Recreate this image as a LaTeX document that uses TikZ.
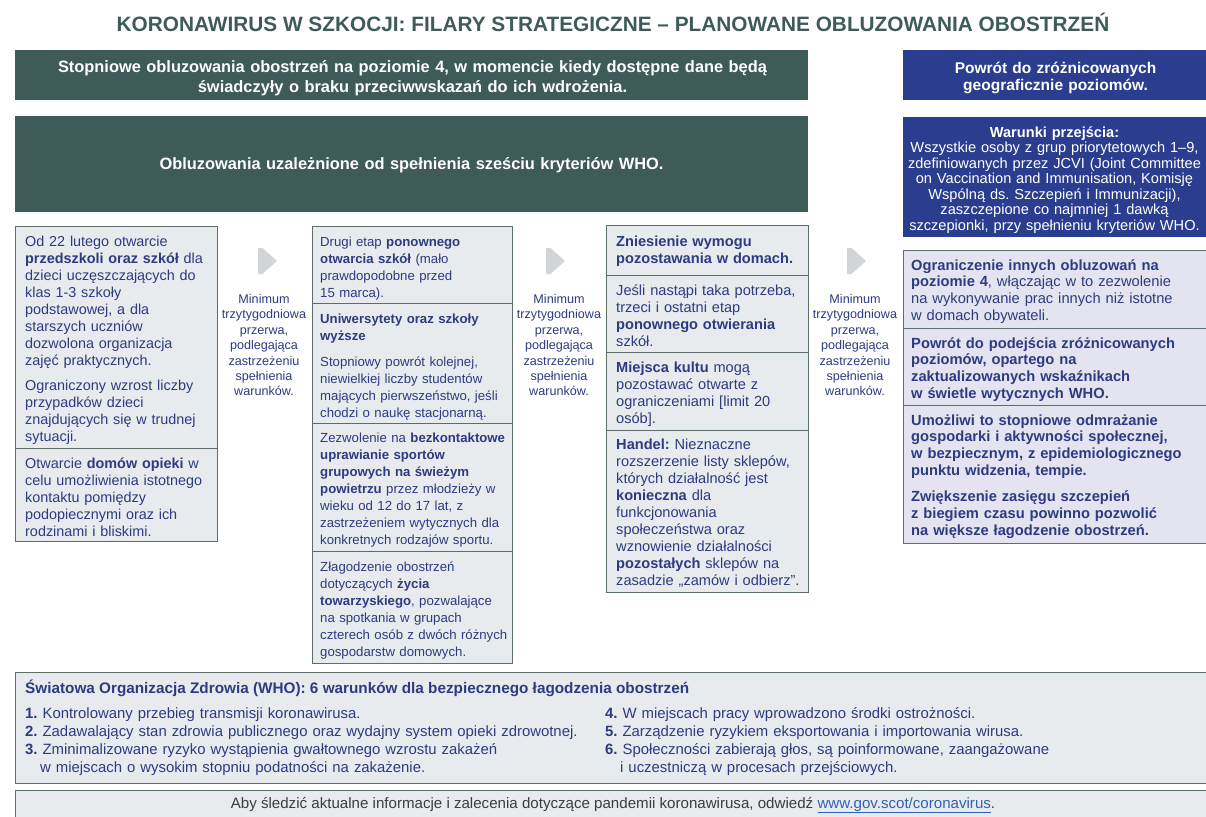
\documentclass[tikz,border=0pt]{standalone}
\usepackage{fontspec}
\setmainfont{Liberation Sans}
\definecolor{tealbox}{HTML}{3E5B58}
\definecolor{bluebox}{HTML}{2A3D8F}
\definecolor{navy}{HTML}{2D3B82}
\definecolor{cellfill}{HTML}{E8EBED}
\definecolor{cellfillb}{HTML}{E3E4EF}
\definecolor{celldraw}{HTML}{5D6E6A}
\definecolor{arrowgray}{HTML}{D3D4D5}
\definecolor{footgray}{HTML}{3C3C3C}
\definecolor{linkblue}{HTML}{2F62B5}
\newcommand\mkbox[6]{\node[#1, anchor=north west, inner sep=0pt, minimum width={#4-#2}, minimum height={#5-#3}] (#6) at (#2,#3) {};}
\frenchspacing
\begin{document}
\begin{tikzpicture}[x=1pt,y=-1pt,
  darkbox/.style={fill=tealbox, draw=none},
  bluebx/.style={fill=bluebox, draw=none},
  cell/.style={fill=cellfill, draw=celldraw, line width=1.4pt},
  cellb/.style={fill=cellfillb, draw=celldraw, line width=1.4pt},
  celltxt/.style={anchor=base west, inner sep=0pt, align=left, text=navy, font=\frenchspacing\fontsize{14.6}{17}\selectfont},
  celltxtn/.style={anchor=base west, inner sep=0pt, align=left, text=navy, font=\frenchspacing\fontsize{13.2}{17}\selectfont},
  whitetxt/.style={anchor=base, inner sep=0pt, align=center, text=white, font=\frenchspacing\fontsize{16.4}{19.5}\selectfont\bfseries},
  gaptxt/.style={anchor=base, inner sep=0pt, align=center, text=navy, text width=100, font=\fontsize{12.6}{15.4}\selectfont},
  chevron/.style={fill=arrowgray},
  listtxt/.style={anchor=base west, inner sep=0pt, align=left, text=navy, font=\frenchspacing\fontsize{14.9}{18.3}\selectfont},
]
\useasboundingbox (0,0) rectangle (1206,816);
\clip (0,0) rectangle (1206,816);

% title
\node[anchor=base, inner sep=0pt, text=tealbox, font=\fontsize{20.8}{24}\selectfont\bfseries] (title) at (613,31.5)
  {KORONAWIRUS W SZKOCJI: FILARY STRATEGICZNE – PLANOWANE OBLUZOWANIA OBOSTRZEŃ};

% top banners
\mkbox{darkbox}{15}{50}{808}{100}{top1}
\node[whitetxt, text width=793] (top1t) at (412.5,72.5)
  {Stopniowe obluzowania obostrzeń na poziomie 4, w momencie kiedy dostępne dane będą\\
   świadczyły o braku przeciwwskazań do ich wdrożenia.};
\mkbox{darkbox}{15}{116}{808}{212}{top2}
\node[whitetxt, text width=793] (top2t) at (411.5,169)
  {Obluzowania uzależnione od spełnienia sześciu kryteriów WHO.};
\mkbox{bluebx}{903}{50}{1215}{100}{blue1}
\node[whitetxt, text width=300, font=\fontsize{15.5}{17}\selectfont\bfseries] (blue1t) at (1055.5,73.5)
  {Powrót do zróżnicowanych\\ geograficznie poziomów.};
\mkbox{bluebx}{903}{117}{1215}{237}{blue2}
\node[whitetxt, text width=300, font=\frenchspacing\fontsize{14.6}{15.5}\selectfont] (blue2t) at (1054.5,137)
  {\textbf{Warunki przejścia:}\\
   Wszystkie osoby z grup priorytetowych 1–9,\\
   zdefiniowanych przez JCVI (Joint Committee\\
   on Vaccination and Immunisation, Komisję\\
   Wspólną ds. Szczepień i Immunizacji),\\
   zaszczepione co najmniej 1 dawką\\
   szczepionki, przy spełnieniu kryteriów WHO.};

% column 1
\mkbox{cell}{15}{226}{217}{448}{c1a}
\mkbox{cell}{15}{448}{217}{541}{c1b}
\node[celltxt, text width=190, font=\fontsize{14.4}{17}\selectfont] (c1at) at (25,246)
  {Od 22 lutego otwarcie\\
   \textbf{przedszkoli oraz szkół} dla\\
   dzieci uczęszczających do\\
   klas 1-3 szkoły\\
   podstawowej, a dla\\
   starszych uczniów\\
   dozwolona organizacja\\
   zajęć praktycznych.\\[8pt]
   Ograniczony wzrost liczby\\
   przypadków dzieci\\
   znajdujących się w trudnej\\
   sytuacji.};
\node[celltxt, text width=190, font=\fontsize{14.4}{17}\selectfont] (c1bt) at (25,468)
  {Otwarcie \textbf{domów opieki} w\\
   celu umożliwienia istotnego\\
   kontaktu pomiędzy\\
   podopiecznymi oraz ich\\
   rodzinami i bliskimi.};

% column 2
\mkbox{cell}{312}{226}{512}{303}{c2a}
\mkbox{cell}{312}{303}{512}{423}{c2b}
\mkbox{cell}{312}{423}{512}{551}{c2c}
\mkbox{cell}{312}{551}{512}{663}{c2d}
\node[celltxtn, text width=190] (c2at) at (320,246)
  {Drugi etap \textbf{ponownego}\\
   \textbf{otwarcia szkół} (mało\\
   prawdopodobne przed\\
   15 marca).};
\node[celltxtn, text width=190] (c2bt) at (320,323)
  {\textbf{Uniwersytety oraz szkoły}\\
   \textbf{wyższe}\\[9pt]
   Stopniowy powrót kolejnej,\\
   niewielkiej liczby studentów\\
   mających pierwszeństwo, jeśli\\
   chodzi o naukę stacjonarną.};
\node[celltxtn, text width=190] (c2ct) at (320,442)
  {Zezwolenie na \textbf{bezkontaktowe}\\
   \textbf{uprawianie sportów}\\
   \textbf{grupowych na świeżym}\\
   \textbf{powietrzu} przez młodzieży w\\
   wieku od 12 do 17 lat, z\\
   zastrzeżeniem wytycznych dla\\
   konkretnych rodzajów sportu.};
\node[celltxtn, text width=190] (c2dt) at (320,571)
  {Złagodzenie obostrzeń\\
   dotyczących \textbf{życia}\\
   \textbf{towarzyskiego}, pozwalające\\
   na spotkania w grupach\\
   czterech osób z dwóch różnych\\
   gospodarstw domowych.};

% column 3
\mkbox{cell}{606}{225}{808}{275}{c3a}
\mkbox{cell}{606}{275}{808}{352}{c3b}
\mkbox{cell}{606}{352}{808}{430}{c3c}
\mkbox{cell}{606}{430}{808}{592}{c3d}
\node[celltxt, text width=190] (c3at) at (616,246)
  {\textbf{Zniesienie wymogu}\\
   \textbf{pozostawania w domach.}};
\node[celltxt, text width=190] (c3bt) at (616,295)
  {Jeśli nastąpi taka potrzeba,\\
   trzeci i ostatni etap\\
   \textbf{ponownego otwierania}\\
   szkół.};
\node[celltxt, text width=190] (c3ct) at (616,372)
  {\textbf{Miejsca kultu} mogą\\
   pozostawać otwarte z\\
   ograniczeniami [limit 20\\
   osób].};
\node[celltxt, text width=190] (c3dt) at (616,449)
  {\textbf{Handel:} Nieznaczne\\
   rozszerzenie listy sklepów,\\
   których działalność jest\\
   \textbf{konieczna} dla\\
   funkcjonowania\\
   społeczeństwa oraz\\
   wznowienie działalności\\
   \textbf{pozostałych} sklepów na\\
   zasadzie „zamów i odbierz”.};

% column 4
\mkbox{cellb}{903}{250}{1215}{328}{c4a}
\mkbox{cellb}{903}{328}{1215}{405}{c4b}
\mkbox{cellb}{903}{405}{1215}{543}{c4c}
\node[celltxt, text width=295, font=\frenchspacing\fontsize{14.7}{16.9}\selectfont] (c4at) at (911,270)
  {\textbf{Ograniczenie innych obluzowań na}\\
   \textbf{poziomie 4}, włączając w to zezwolenie\\
   na wykonywanie prac innych niż istotne\\
   w domach obywateli.};
\node[celltxt, text width=295, font=\frenchspacing\fontsize{14.7}{16.9}\selectfont\bfseries] (c4bt) at (911,348)
  {Powrót do podejścia zróżnicowanych\\
   poziomów, opartego na\\
   zaktualizowanych wskaźnikach\\
   w świetle wytycznych WHO.};
\node[celltxt, text width=295, font=\frenchspacing\fontsize{14.7}{16.7}\selectfont\bfseries] (c4ct) at (911,425)
  {Umożliwi to stopniowe odmrażanie\\
   gospodarki i aktywności społecznej,\\
   w bezpiecznym, z epidemiologicznego\\
   punktu widzenia, tempie.\\[10pt]
   Zwiększenie zasięgu szczepień\\
   z biegiem czasu powinno pozwolić\\
   na większe łagodzenie obostrzeń.};

% gaps with chevrons
\fill[chevron] (258,248) -- (262.5,248) -- (277,261) -- (262.5,274) -- (258,274) -- cycle;
\fill[chevron] (546,248) -- (550.5,248) -- (565,261) -- (550.5,274) -- (546,274) -- cycle;
\fill[chevron] (847,248) -- (851.5,248) -- (866,261) -- (851.5,274) -- (847,274) -- cycle;
\node[gaptxt] (gap1) at (264,303.5)
  {Minimum\\ trzytygodniowa\\ przerwa,\\ podlegająca\\ zastrzeżeniu\\ spełnienia\\ warunków.};
\node[gaptxt] (gap2) at (559,303.5)
  {Minimum\\ trzytygodniowa\\ przerwa,\\ podlegająca\\ zastrzeżeniu\\ spełnienia\\ warunków.};
\node[gaptxt] (gap3) at (855,303.5)
  {Minimum\\ trzytygodniowa\\ przerwa,\\ podlegająca\\ zastrzeżeniu\\ spełnienia\\ warunków.};

% WHO box
\mkbox{cell}{15}{672}{1215}{783}{who}
\node[anchor=base west, inner sep=0pt, text=navy, font=\fontsize{15.3}{17}\selectfont\bfseries] (whot) at (25,693)
  {Światowa Organizacja Zdrowia (WHO): 6 warunków dla bezpiecznego łagodzenia obostrzeń};
\node[listtxt, text width=575] (whol) at (25,718)
  {\textbf{1.} Kontrolowany przebieg transmisji koronawirusa.\\
   \textbf{2.} Zadawalający stan zdrowia publicznego oraz wydajny system opieki zdrowotnej.\\
   \textbf{3.} Zminimalizowane ryzyko wystąpienia gwałtownego wzrostu zakażeń\\
   \hspace*{15pt}w miejscach o wysokim stopniu podatności na zakażenie.};
\node[listtxt, text width=595] (whor) at (605,718)
  {\textbf{4.} W miejscach pracy wprowadzono środki ostrożności.\\
   \textbf{5.} Zarządzenie ryzykiem eksportowania i importowania wirusa.\\
   \textbf{6.} Społeczności zabierają głos, są poinformowane, zaangażowane\\
   \hspace*{15pt}i uczestniczą w procesach przejściowych.};

% footer
\mkbox{cell}{15}{790}{1215}{830}{foot}
\node[anchor=base, inner sep=0pt, text=footgray, font=\fontsize{15.1}{17}\selectfont] (foott) at (613,808)
  {Aby śledzić aktualne informacje i zalecenia dotyczące pandemii koronawirusa, odwiedź {\color{linkblue}\underline{www.gov.scot/coronavirus}}.};
\end{tikzpicture}
\end{document}
